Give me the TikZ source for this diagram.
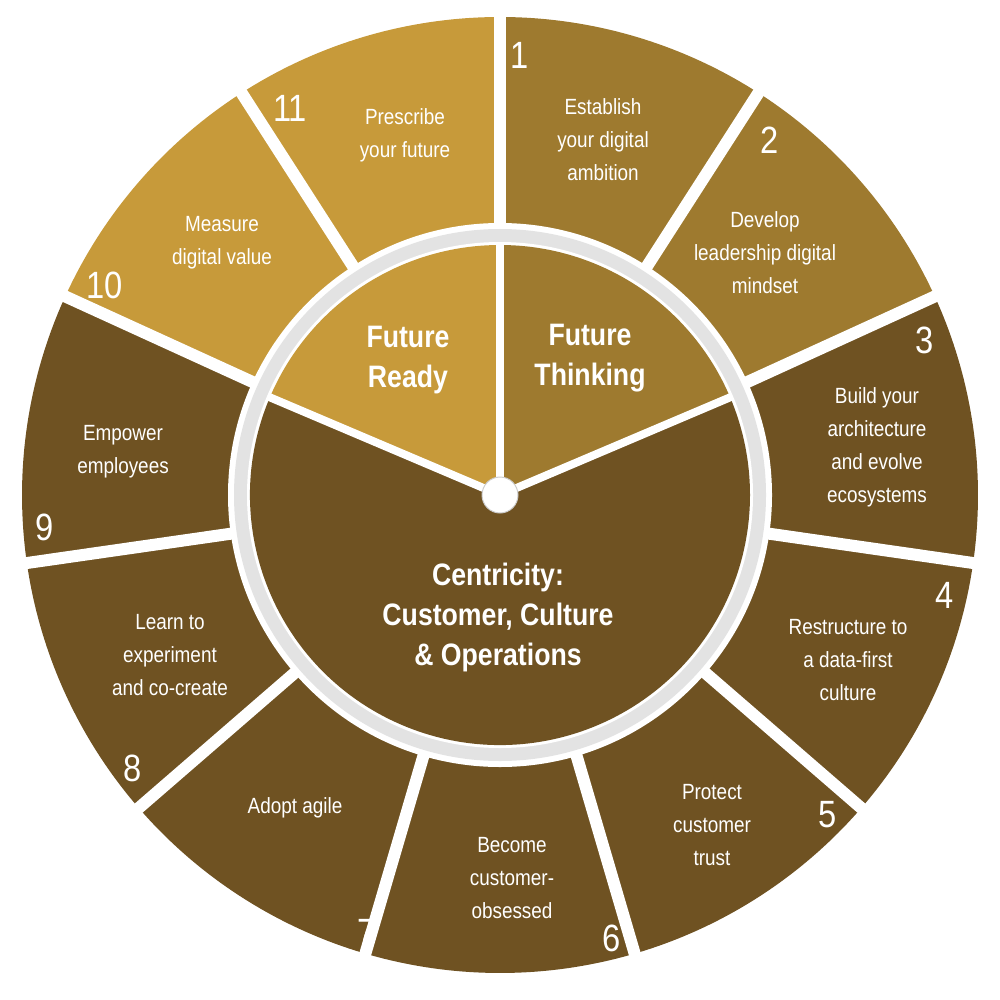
\documentclass[tikz,border=0pt]{standalone}
\usepackage{fontspec}
\setmainfont[FakeStretch=0.86]{Liberation Sans}
\definecolor{cmed}{HTML}{9E7A2F}
\definecolor{clight}{HTML}{C79A3A}
\definecolor{cdark}{HTML}{6F5222}
\tikzset{
  lbl/.style={text=white,align=center,font=\fontsize{22}{33}\selectfont},
  num/.style={text=white,font=\fontsize{38}{40}\selectfont},
  big/.style={text=white,align=center,font=\bfseries\fontsize{31}{40}\selectfont},
}
\begin{document}
\begin{tikzpicture}[x=1pt,y=1pt]
\useasboundingbox (0,0) rectangle (1000,-1000);
\coordinate (c) at (500,-495);
% outer segments
\foreach \i/\col in {1/cmed,2/cmed,3/cdark,4/cdark,5/cdark,6/cdark,7/cdark,8/cdark,9/cdark,10/clight,11/clight}{
  \pgfmathsetmacro\a{90-(\i-1)*360/11}
  \pgfmathsetmacro\b{90-\i*360/11}
  \fill[\col] (c) ++(\a:478) arc[start angle=\a,end angle=\b,radius=478] -- (c) -- cycle;
}
\foreach \i in {0,...,10}{
  \pgfmathsetmacro\a{90-\i*360/11}
  \draw[white,line width=12pt] (c) -- ++(\a:490);
}
% ring
\fill[white] (c) circle[radius=272];
\fill[gray!22] (c) circle[radius=266];
\fill[white] (c) circle[radius=253];
% inner sectors
\fill[cmed] (c) -- ++(90:250) arc[start angle=90,end angle=23,radius=250] -- cycle;
\fill[clight] (c) -- ++(90:250) arc[start angle=90,end angle=157,radius=250] -- cycle;
\fill[cdark] (c) -- ++(157:250) arc[start angle=157,end angle=383,radius=250] -- cycle;
\foreach \a in {90,23,157}{\draw[white,line width=8pt] (c) -- ++(\a:252);}
\node[circle,fill=white,draw=gray!40,line width=1pt,minimum size=36pt,inner sep=0] (hub) at (c) {};
% labels
\node[num] (n1) at (520,-55) {1};
\node[lbl] (t1) at (603,-140) {Establish\\your digital\\ambition};
\node[num] (n2) at (770,-140) {2};
\node[lbl] (t2) at (765,-253) {Develop\\leadership digital\\mindset};
\node[num] (n3) at (925,-340) {3};
\node[lbl] (t3) at (877,-447) {Build your\\architecture\\and evolve\\ecosystems};
\node[num] (n4) at (945,-595) {4};
\node[lbl] (t4) at (848,-660) {Restructure to\\a data-first\\culture};
\node[num] (n5) at (828,-815) {5};
\node[lbl] (t5) at (712,-825) {Protect\\customer\\trust};
\node[num] (n6) at (612,-938) {6};
\node[lbl] (t6) at (512,-878) {Become\\customer-\\obsessed};
\node[num] (n7) at (367,-932) {7};
\node[lbl] (t7) at (295,-808) {Adopt agile};
\node[num] (n8) at (133,-768) {8};
\node[lbl] (t8) at (170,-655) {Learn to\\experiment\\and co-create};
\node[num] (n9) at (45,-527) {9};
\node[lbl] (t9) at (123,-452) {Empower\\employees};
\node[num] (n10) at (105,-285) {10};
\node[lbl] (t10) at (222,-243) {Measure\\digital value};
\node[num] (n11) at (290,-108) {11};
\node[lbl] (t11) at (405,-135) {Prescribe\\your future};
\node[big] (ft) at (590,-358) {Future\\Thinking};
\node[big] (fr) at (408,-360) {Future\\Ready};
\node[big] (ce) at (498,-617) {Centricity:\\Customer, Culture\\\& Operations};
\end{tikzpicture}
\end{document}
